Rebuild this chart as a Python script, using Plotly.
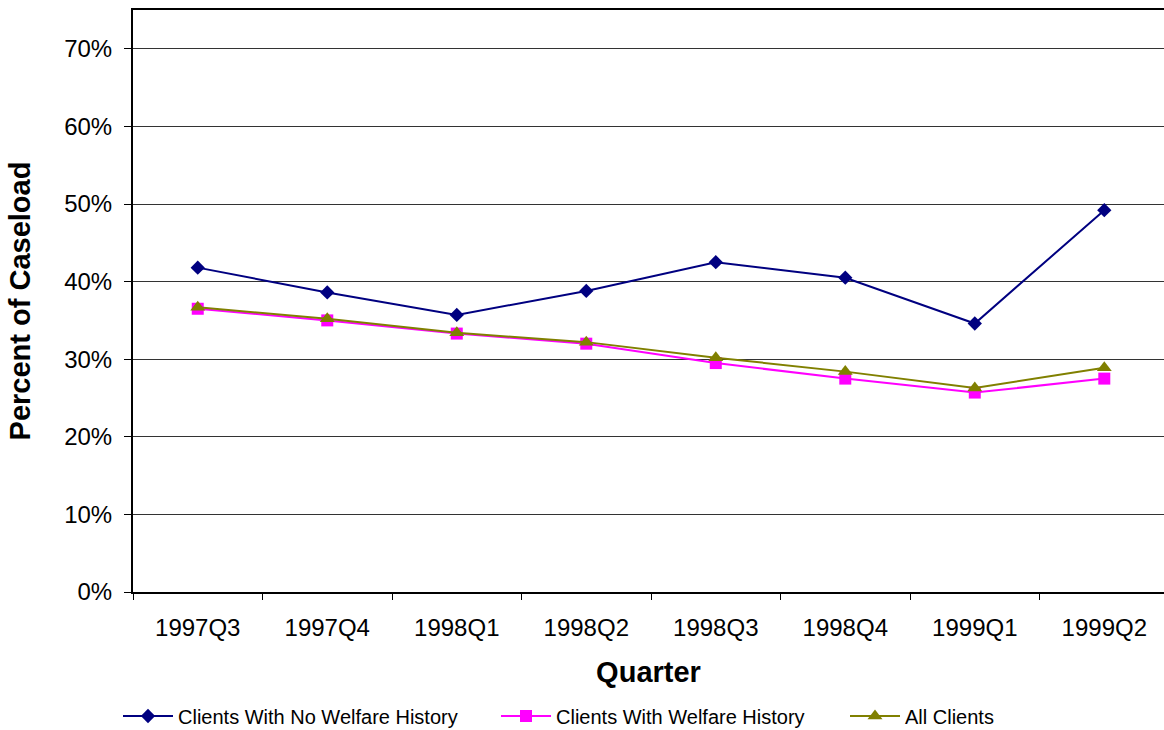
import plotly.graph_objects as go

# Quarterly share of caseload by client group
quarters = ["1997Q3", "1997Q4", "1998Q1", "1998Q2", "1998Q3", "1998Q4", "1999Q1", "1999Q2"]
no_welfare = [0.418, 0.386, 0.357, 0.388, 0.425, 0.405, 0.346, 0.492]
with_welfare = [0.365, 0.350, 0.333, 0.320, 0.295, 0.275, 0.257, 0.275]
all_clients = [0.367, 0.352, 0.334, 0.322, 0.302, 0.284, 0.263, 0.289]

# name, values, colour, marker symbol, marker size, legend id, legend left edge (px)
series = [
    ("Clients With No Welfare History", no_welfare, "#000080", "diamond", 11, "legend", 118),
    ("Clients With Welfare History", with_welfare, "#FF00FF", "square", 12, "legend2", 496),
    ("All Clients", all_clients, "#808000", "triangle-up", 13, "legend3", 845),
]

W, H = 1164, 730
L, R, T, B = 133, 0, 10, 138

fig = go.Figure()
for name, vals, color, symbol, size, leg, _ in series:
    fig.add_trace(go.Scatter(
        x=quarters, y=vals, name=name, mode="lines+markers",
        line=dict(color=color, width=2),
        marker=dict(symbol=symbol, size=size, color=color),
        legend=leg,
    ))

font = "Arial, Liberation Sans, sans-serif"
legends = {}
for _, _, _, _, _, leg, left in series:
    legends[leg] = dict(
        orientation="h", xref="container", yref="container",
        x=left / W, xanchor="left", y=1 - 716 / H, yanchor="middle",
        font=dict(size=20), bgcolor="rgba(0,0,0,0)", itemwidth=50,
    )

fig.update_layout(
    width=W, height=H,
    margin=dict(l=L, r=R, t=T, b=B, autoexpand=False),
    paper_bgcolor="white", plot_bgcolor="white",
    font=dict(family=font, color="black"),
    showlegend=True,
    xaxis=dict(
        type="category", range=[-0.5, 7.461],
        tickson="boundaries", ticks="outside", ticklen=6, tickcolor="black", tickwidth=1,
        tickfont=dict(size=24), ticklabelstandoff=13, showgrid=False,
        showline=True, linecolor="black", linewidth=2, mirror=True,
        title=dict(text="<b>Quarter</b>", font=dict(size=29), standoff=22),
    ),
    yaxis=dict(
        range=[0, 0.75], tickvals=[0, 0.1, 0.2, 0.3, 0.4, 0.5, 0.6, 0.7],
        tickformat=".0%", ticks="outside", ticklen=7, tickcolor="black",
        tickfont=dict(size=24), ticklabelstandoff=7,
        showgrid=True, gridcolor="#333333", gridwidth=1,
        showline=True, linecolor="black", linewidth=2, zeroline=False,
        title=dict(text="<b>Percent of Caseload</b>", font=dict(size=29), standoff=25),
    ),
    **legends,
)

fig.write_html("out.html")
